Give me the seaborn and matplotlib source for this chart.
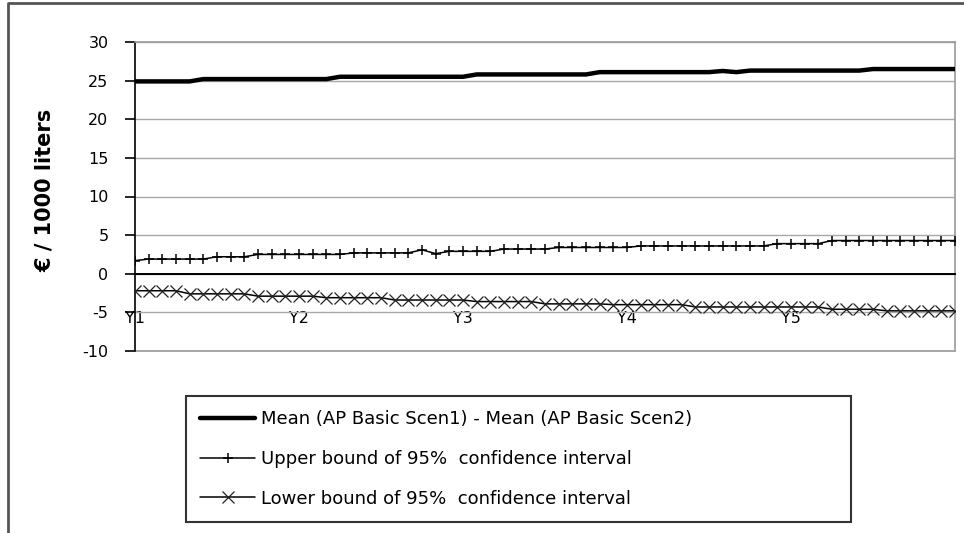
import matplotlib
matplotlib.use("Agg")
import matplotlib.pyplot as plt
from matplotlib.lines import Line2D
import seaborn as sns
import pandas as pd

# ---- data (monthly points over five years) ----
month = list(range(61))
tick_positions = [0, 12, 24, 36, 48, 60]
tick_labels = ["Y1", "Y2", "Y3", "Y4", "Y5", ""]

mean_diff = [24.9, 24.9, 24.9, 24.9, 24.9,
             25.2, 25.2, 25.2, 25.2, 25.2, 25.2, 25.2, 25.2, 25.2, 25.2,
             25.5, 25.5, 25.5, 25.5, 25.5, 25.5, 25.5, 25.5, 25.5, 25.5,
             25.8, 25.8, 25.8, 25.8, 25.8, 25.8, 25.8, 25.8, 25.8,
             26.1, 26.1, 26.1, 26.1, 26.1, 26.1, 26.1, 26.1, 26.1, 26.25, 26.1,
             26.3, 26.3, 26.3, 26.3, 26.3, 26.3, 26.3, 26.3, 26.3,
             26.5, 26.5, 26.5, 26.5, 26.5, 26.5, 26.5]

upper_ci = [1.7,
            1.9, 1.9, 1.9, 1.9, 1.9,
            2.2, 2.2, 2.2,
            2.5, 2.5, 2.5, 2.5, 2.5, 2.5, 2.5,
            2.7, 2.7, 2.7, 2.7, 2.7,
            3.1, 2.6,
            2.9, 2.9, 2.9, 2.9,
            3.2, 3.2, 3.2, 3.2,
            3.4, 3.4, 3.4, 3.4, 3.4, 3.4,
            3.6, 3.6, 3.6, 3.6, 3.6, 3.6, 3.6, 3.6, 3.6, 3.6,
            3.9, 3.9, 3.9, 3.9,
            4.3, 4.3, 4.3, 4.3, 4.3, 4.3, 4.3, 4.3, 4.3, 4.3]

lower_ci = [-2.2, -2.2, -2.2, -2.2,
            -2.6, -2.6, -2.6, -2.6, -2.6,
            -2.9, -2.9, -2.9, -2.9, -2.9,
            -3.1, -3.1, -3.1, -3.1, -3.1,
            -3.4, -3.4, -3.4, -3.4, -3.4, -3.4,
            -3.6, -3.6, -3.6, -3.6, -3.6,
            -3.9, -3.9, -3.9, -3.9, -3.9,
            -4.0, -4.0, -4.0, -4.0, -4.0, -4.0,
            -4.3, -4.3, -4.3, -4.3, -4.3, -4.3, -4.3, -4.3, -4.3, -4.3,
            -4.6, -4.6, -4.6, -4.6,
            -4.8, -4.8, -4.8, -4.8, -4.8, -4.8]

label_mean = "Mean (AP Basic Scen1) - Mean (AP Basic Scen2)"
label_upper = "Upper bound of 95%  confidence interval"
label_lower = "Lower bound of 95%  confidence interval"
y_label = "€ / 1000 liters"

# ---- style ----
sns.set_style("white")
plt.rcParams["font.family"] = ["DejaVu Sans"]
plt.rcParams["text.color"] = "black"
plt.rcParams["axes.labelcolor"] = "black"
plt.rcParams["xtick.color"] = "black"
plt.rcParams["ytick.color"] = "black"

fig = plt.figure(figsize=(9.64, 5.33), dpi=100)
ax = fig.add_axes([135 / 964, 1 - 351 / 533, (955 - 135) / 964, (351 - 42) / 533])

df = pd.DataFrame({"month": month, "mean": mean_diff, "upper": upper_ci, "lower": lower_ci})

sns.lineplot(data=df, x="month", y="mean", ax=ax, color="black", linewidth=3.2,
             label=label_mean, zorder=5)
sns.lineplot(data=df, x="month", y="upper", ax=ax, color="black", linewidth=1.1,
             marker="+", markersize=7, markeredgewidth=1.1, markeredgecolor="black",
             label=label_upper, zorder=5)
sns.lineplot(data=df, x="month", y="lower", ax=ax, color="black", linewidth=1.1,
             marker="x", markersize=8, markeredgewidth=0.9, markeredgecolor="#222222",
             label=label_lower, zorder=5)

ax.set_xlim(0, 60)
ax.set_ylim(-10, 30)
ax.set_yticks([-10, -5, 0, 5, 10, 15, 20, 25, 30])
ax.set_yticklabels(["-10", "-5", "0", "5", "10", "15", "20", "25", "30"])
ax.yaxis.grid(True, color="#a8a8a8", linewidth=1)
ax.xaxis.grid(False)
ax.set_axisbelow(True)

# spines: category axis crossing at zero, gray plot-area box
for s in ["top", "right"]:
    ax.spines[s].set_color("#9a9a9a")
    ax.spines[s].set_linewidth(1.2)
ax.spines["left"].set_color("black")
ax.spines["left"].set_linewidth(1.2)
ax.spines["bottom"].set_position(("data", 0))
ax.spines["bottom"].set_color("black")
ax.spines["bottom"].set_linewidth(1.4)
ax.add_line(Line2D([0, 1], [0, 0], transform=ax.transAxes, color="#9a9a9a", lw=1.2,
                   clip_on=False, zorder=1))

ax.set_xticks(tick_positions)
ax.set_xticklabels(tick_labels)
ax.tick_params(axis="x", direction="out", length=6, width=1.2, color="black",
               pad=21, labelsize=11.5, labelcolor="black")
ax.tick_params(axis="y", direction="out", length=7, width=1.2, color="black",
               pad=12, labelsize=11.5, left=True, labelcolor="black")
ax.set_xlabel("")
ax.set_ylabel(y_label, fontsize=15, fontweight="bold", color="black")
ax.yaxis.set_label_coords(-0.098, 0.52)

# legend
ax.get_legend().remove()
handles, labels = ax.get_legend_handles_labels()
leg = fig.legend(handles, labels, loc="upper left",
                 bbox_to_anchor=(186 / 964, 1 - 396 / 533, (851 - 186) / 964, 0.0),
                 mode="expand", frameon=True, fancybox=False, shadow=False,
                 fontsize=13, handlelength=3.0, handletextpad=0.35,
                 labelspacing=1.2, borderpad=0.8, borderaxespad=0.0)
leg.get_frame().set_edgecolor("black")
leg.get_frame().set_linewidth(1.5)
for t in leg.get_texts():
    t.set_color("black")

# outer chart frame (cropped at right and bottom)
fig.add_artist(Line2D([7.5 / 964, 7.5 / 964, 1.01], [-0.01, 1 - 2.5 / 533, 1 - 2.5 / 533],
                      transform=fig.transFigure, color="#555555", lw=2))

fig.savefig("out.png", dpi=100)
